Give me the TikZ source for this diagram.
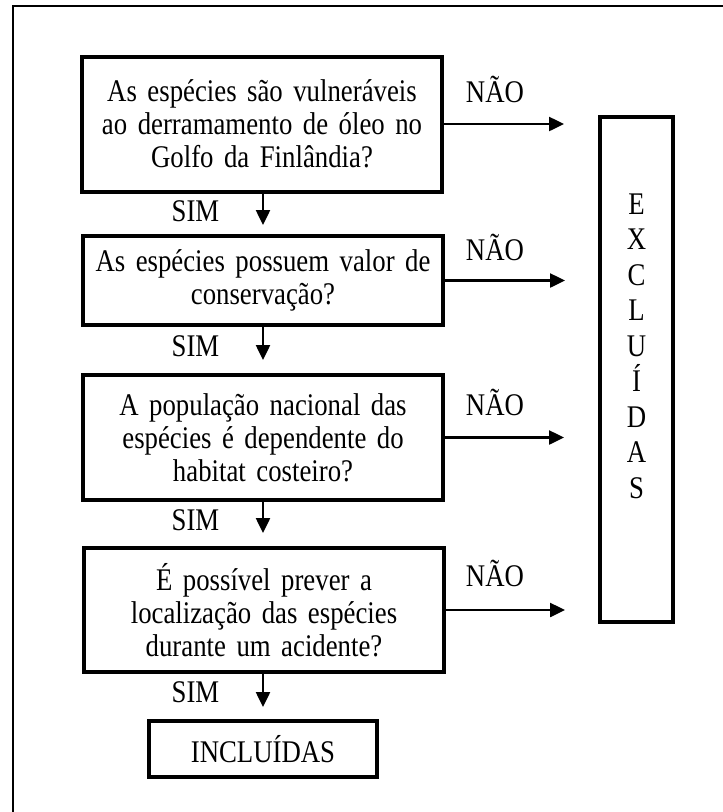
\documentclass[tikz,border=0pt]{standalone}
\usepackage{fontspec}
\setmainfont[FakeStretch=0.85]{Liberation Serif}
\usetikzlibrary{arrows.meta}
\begin{document}
\begin{tikzpicture}[x=1pt,y=-1pt,
  every node/.style={text=black},
  txt/.style={font=\fontsize{31.5}{33}\selectfont},
  qbox/.style={draw, line width=4pt, minimum width=360pt, align=center,
    text width=350pt, inner sep=0pt, txt},
  rbox/.style={draw, line width=4pt, inner sep=0pt},
  lbl/.style={txt, anchor=base, inner sep=0pt},
  arr/.style={line width=2.5pt, -{Triangle[length=15pt,width=14pt]}},
  frame/.style={line width=2pt}
]
\useasboundingbox (0,0) rectangle (723,812);
\clip (0,0) rectangle (723,812);
\draw[frame] (13,6) rectangle (760,860);

% question boxes
\node[qbox, minimum height=135pt] (q1) at (262,124)
  {As espécies são vulneráveis\\ao derramamento de óleo no\\Golfo da Finlândia?};
\node[qbox, minimum height=89pt] (q2) at (263,280.5)
  {As espécies possuem valor de\\conservação?};
\node[qbox, minimum height=125pt] (q3) at (263,437.5)
  {A população nacional das\\espécies é dependente do\\habitat costeiro?};
\node[qbox, minimum height=124pt] (q4) at (264,610)
  {É possível prever a\\localização das espécies\\durante um acidente?};

% result boxes
\node[rbox, minimum width=228pt, minimum height=56pt, txt] (inc) at (263,749) {INCLUÍDAS};
\node[rbox, minimum width=73pt, minimum height=505pt] (exc) at (636.5,369.5) {};
\node[align=center, inner sep=0pt, font=\fontsize{31.5}{35.5}\selectfont]
  (exctxt) at (636.5,346) {E\\X\\C\\L\\U\\Í\\D\\A\\S};

% free ends of the arrows
\coordinate (e1) at (564,124);
\coordinate (e2) at (565,280.5);
\coordinate (e3) at (564,437.5);
\coordinate (e4) at (565,610);
\coordinate (s1) at (263,225);
\coordinate (s2) at (263,360);
\coordinate (s3) at (263,533);
\coordinate (s4) at (263,707);

% NÃO arrows
\draw[arr] (q1.east) -- (e1);
\draw[arr] (q2.east) -- (e2);
\draw[arr] (q3.east) -- (e3);
\draw[arr] (q4.east) -- (e4);

% SIM arrows
\draw[arr] (q1.south -| s1) -- (s1);
\draw[arr] (q2.south -| s2) -- (s2);
\draw[arr] (q3.south -| s3) -- (s3);
\draw[arr] (q4.south -| s4) -- (s4);

% labels
\node[lbl] (n1) at (495,102) {NÃO};
\node[lbl] (n2) at (495,260) {NÃO};
\node[lbl] (n3) at (495,415) {NÃO};
\node[lbl] (n4) at (495,586) {NÃO};
\node[lbl] (y1) at (195.5,221) {SIM};
\node[lbl] (y2) at (195.5,356) {SIM};
\node[lbl] (y3) at (195.5,530) {SIM};
\node[lbl] (y4) at (195.5,702) {SIM};
\end{tikzpicture}
\end{document}
